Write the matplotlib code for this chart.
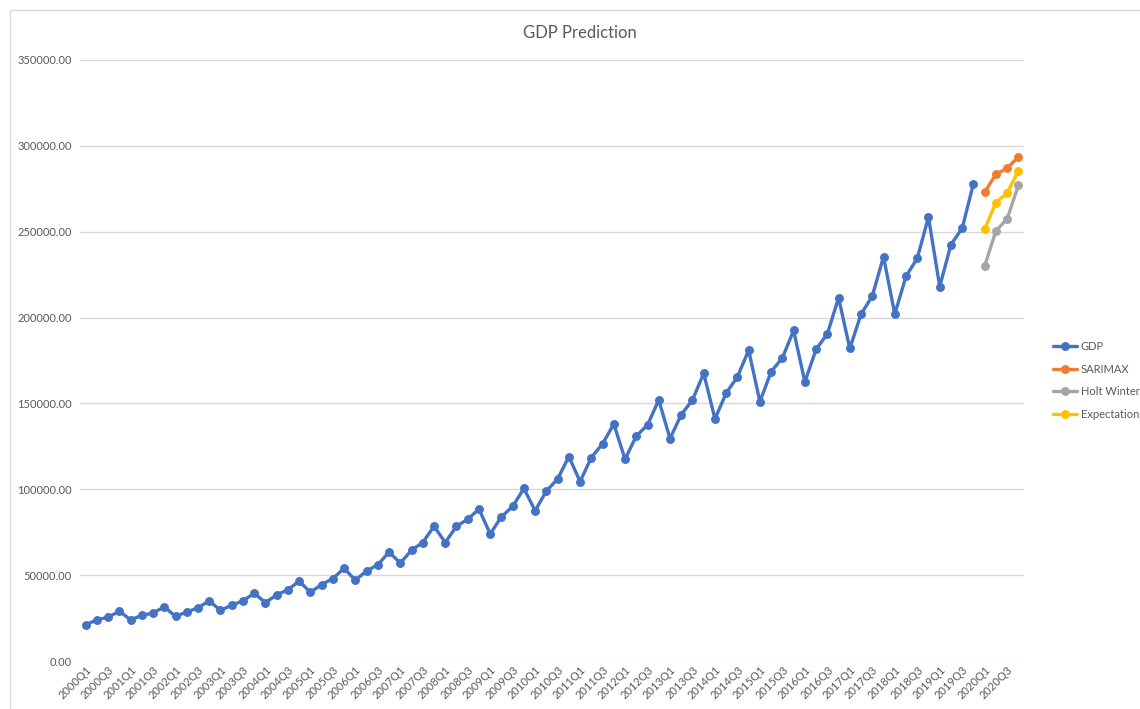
import matplotlib
matplotlib.use("Agg")
import matplotlib.pyplot as plt
from matplotlib.patches import Rectangle
import numpy as np

plt.rcParams['font.family'] = ['Lato', 'DejaVu Sans']

# Categories: 2000Q1 .. 2020Q4
quarters = [f"{y}Q{q}" for y in range(2000, 2021) for q in range(1, 5)]

gdp = [21000, 24000, 25500, 29000,
       24000, 26500, 28000, 31500,
       26000, 28500, 31000, 35000,
       29500, 32500, 35000, 39500,
       34000, 38500, 41500, 46500,
       40000, 44500, 48000, 54000,
       47000, 52500, 56000, 63500,
       57000, 64500, 69000, 78500,
       69000, 78500, 82500, 88500,
       74000, 84000, 90000, 100500,
       87500, 99000, 106000, 119000,
       104500, 118500, 126500, 138000,
       117500, 131000, 137500, 152000,
       129500, 143500, 152000, 167500,
       141000, 156000, 165500, 181000,
       151000, 168500, 176500, 192500,
       162500, 181500, 190500, 211500,
       182000, 202000, 212500, 235500,
       202000, 224000, 234500, 258500,
       218000, 242500, 252000, 278000]

sarimax = [273000, 283500, 287000, 293500]
holt_winter = [230000, 250500, 257500, 277000]
expectation = [251500, 267000, 272500, 285500]

series_names = ["GDP", "SARIMAX", "Holt Winter", "Expectation"]
colors = ["#4472C4", "#ED7D31", "#A5A5A5", "#FFC000"]

W, H = 1140, 709
fig = plt.figure(figsize=(W / 100, H / 100), dpi=100)
ax = fig.add_axes([80 / W, 1 - 661 / H, (1024 - 80) / W, (661 - 60) / H])

x_all = np.arange(len(quarters))
x_gdp = x_all[:len(gdp)]
x_fc = x_all[len(gdp):]

kw = dict(lw=2.4, marker='o', ms=5.4, solid_capstyle='round', solid_joinstyle='round')
ax.plot(x_gdp, gdp, color=colors[0], label=series_names[0], **kw)
ax.plot(x_fc, sarimax, color=colors[1], label=series_names[1], **kw)
ax.plot(x_fc, holt_winter, color=colors[2], label=series_names[2], **kw)
ax.plot(x_fc, expectation, color=colors[3], label=series_names[3], **kw)

ax.set_xlim(-0.5, len(quarters) - 0.5)
ax.set_ylim(0, 350000)
ax.set_yticks(np.arange(0, 350001, 50000))
ax.set_yticklabels([f"{v:.2f}" for v in np.arange(0, 350001, 50000)])
ax.yaxis.grid(True, color="#D9D9D9", lw=1.0)
ax.set_axisbelow(True)
for s in ax.spines.values():
    s.set_visible(False)
ax.tick_params(axis='y', length=0, pad=6, labelsize=8, labelcolor="#595959")
ax.tick_params(axis='x', length=0, pad=2, labelsize=8, labelcolor="#595959")

ax.set_xticks(x_all[::2])
ax.set_xticklabels(quarters[::2], rotation=45, ha='right', rotation_mode='anchor')

fig.text(580 / W, 1 - 33 / H, "GDP Prediction", ha='center', va='center',
         fontsize=12, color="#595959")

leg = fig.legend(loc='upper left', bbox_to_anchor=(1043 / W, 1 - 331 / H),
                 frameon=False, fontsize=8, labelcolor="#595959",
                 handlelength=2.2, handletextpad=0.3, labelspacing=1.05)

# chart area border
fig.patches.append(Rectangle((10 / W, -0.1), 1.2, 1 - 10 / H + 0.1,
                             transform=fig.transFigure, fill=False,
                             edgecolor="#D9D9D9", lw=1.0))

fig.savefig("out.png", dpi=100)
